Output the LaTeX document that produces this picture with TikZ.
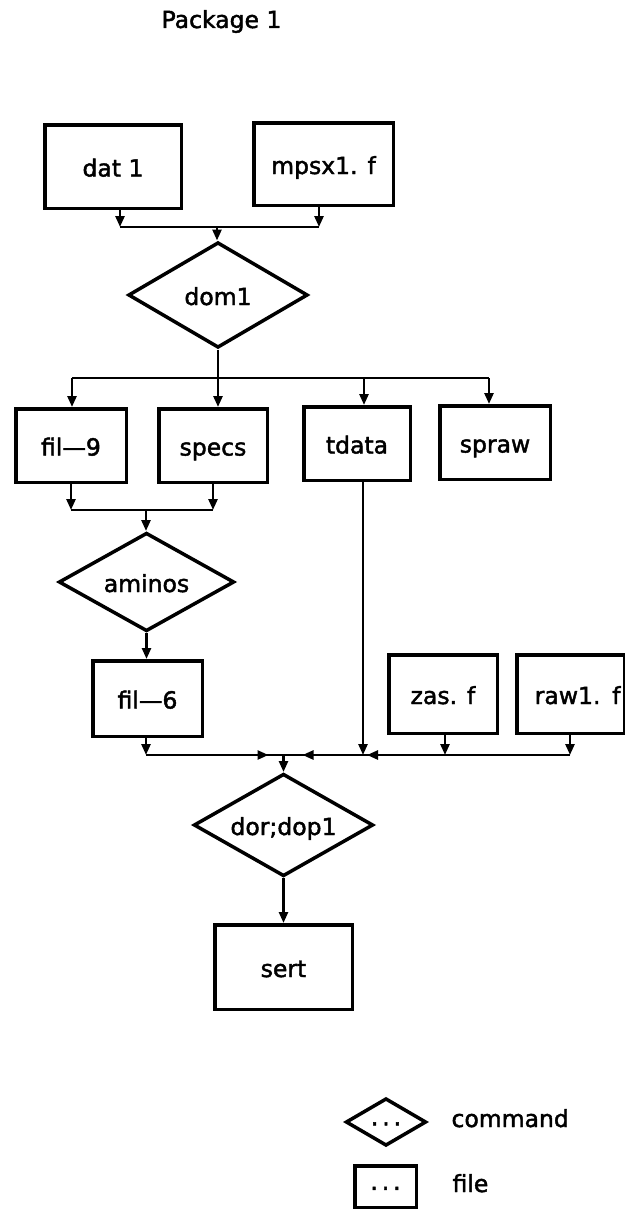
\documentclass[tikz,border=0pt]{standalone}
\usepackage{fontspec}
\newfontfamily\diagfont{DejaVu Sans}[FakeBold=1.8]
\usetikzlibrary{shapes.geometric,arrows.meta}
\begin{document}
\begin{tikzpicture}[x=1pt,y=-1pt,
  every node/.style={font=\diagfont\fontsize{23.5}{27}\selectfont},
  lbl/.style={text height=22pt,text depth=2pt},
  filebox/.style={draw,line width=3.5pt,rectangle,inner sep=0pt,lbl},
  cmd/.style={draw,line width=3.5pt,diamond,aspect=1.7,inner sep=0pt,lbl},
  link/.style={line width=2.5pt},
  arr/.style={link,-{Triangle[length=11pt,width=9pt]}},
]
\fill[white] (0,0) rectangle (624,1215);
\useasboundingbox (0,0) rectangle (624,1215);

% title
\node[anchor=base] (title) at (221.5,28) {Package 1};

% files and commands
\node[filebox,minimum width=136.5pt,minimum height=83.5pt] (dat1) at (113,166.5) {dat 1};
\node[filebox,minimum width=139.5pt,minimum height=82.5pt] (mpsx) at (323.5,164) {mpsx1. f};
\node[cmd,minimum width=179.5pt,minimum height=105.5pt] (dom1) at (218,295) {dom1};

\node[filebox,minimum width=110.5pt,minimum height=73.5pt] (fil9) at (71,445.5) {fil—9};
\node[filebox,minimum width=108.5pt,minimum height=73.5pt] (specs) at (213,445.5) {specs};
\node[filebox,minimum width=106.5pt,minimum height=73.5pt] (tdata) at (357,443.5) {tdata};
\node[filebox,minimum width=110.5pt,minimum height=73.5pt] (spraw) at (495,442.5) {spraw};

\node[cmd,minimum width=175.5pt,minimum height=98.5pt] (aminos) at (146.5,582) {aminos};
\node[filebox,minimum width=109.5pt,minimum height=75.5pt] (fil6) at (147.5,698.5) {fil—6};

\node[filebox,minimum width=108.5pt,minimum height=78.5pt] (zas) at (443,694) {zas. f};
\node[filebox,minimum width=107.5pt,minimum height=78.5pt,text width=100pt,align=right] (raw) at (570.5,694) {raw1. f};

\node[cmd,minimum width=179.5pt,minimum height=102.5pt] (dor) at (283.5,825) {dor;dop1};
\node[filebox,minimum width=137.5pt,minimum height=84.5pt] (sert) at (283.5,967) {sert};

% legend
\node[cmd,minimum width=80.5pt,minimum height=47.5pt] (lcmd) at (386,1122) {·\,·\,·};
\node[anchor=base west] (lcmdtxt) at (448,1127) {command};
\node[filebox,minimum width=61.5pt,minimum height=41.5pt] (lfile) at (385.5,1186.5) {·\,·\,·};
\node[anchor=base west] (lfiletxt) at (449,1192) {file};

% bus points
\coordinate (b1a) at (120,227);
\coordinate (b1b) at (319,227);
\coordinate (j1) at (217,227);

\coordinate (b2a) at (72,378);
\coordinate (j2) at (218,378);
\coordinate (b2c) at (364,378);
\coordinate (b2d) at (489,378);

\coordinate (b3a) at (71,510);
\coordinate (b3b) at (213,510);
\coordinate (j3) at (146,510);

\coordinate (b4a) at (146,755);
\coordinate (j4) at (283.5,755);
\coordinate (b4c) at (363,755);
\coordinate (b4d) at (445,755);
\coordinate (b4e) at (570,755);

% dat 1, mpsx1. f -> dom1
\draw[arr] (b1a |- dat1.south) -- (b1a);
\draw[arr] (b1b |- mpsx.south) -- (b1b);
\draw[link] (b1a) -- (b1b);
\draw[arr] (j1) -- (j1 |- dom1.north);

% dom1 -> fil-9, specs, tdata, spraw
\draw[link] (dom1.south) -- (j2);
\draw[link] (b2a) -- (b2d);
\draw[arr] (b2a) -- (b2a |- fil9.north);
\draw[arr] (j2) -- (j2 |- specs.north);
\draw[arr] (b2c) -- (b2c |- tdata.north);
\draw[arr] (b2d) -- (b2d |- spraw.north);

% fil-9, specs -> aminos -> fil-6
\draw[arr] (b3a |- fil9.south) -- (b3a);
\draw[arr] (b3b |- specs.south) -- (b3b);
\draw[link] (b3a) -- (b3b);
\draw[arr] (j3) -- (j3 |- aminos.north);
\draw[arr] (aminos.south) -- (aminos.south |- fil6.north);

% fil-6, tdata, zas. f, raw1. f -> dor;dop1
\draw[arr] (b4a |- fil6.south) -- (b4a);
\draw[arr] (b4c |- tdata.south) -- (b4c);
\draw[arr] (b4d |- zas.south) -- (b4d);
\draw[arr] (b4e |- raw.south) -- (b4e);
\draw[link] (b4a) -- (b4e);
\draw[arr] (b4a) -- ([xshift=-15pt]j4);
\draw[arr] (b4c) -- ([xshift=19pt]j4);
\draw[arr] (b4e) -- ([xshift=4pt]b4c);
\draw[arr] (j4) -- (j4 |- dor.north);

% dor;dop1 -> sert
\draw[arr] (dor.south) -- (dor.south |- sert.north);
\end{tikzpicture}
\end{document}
